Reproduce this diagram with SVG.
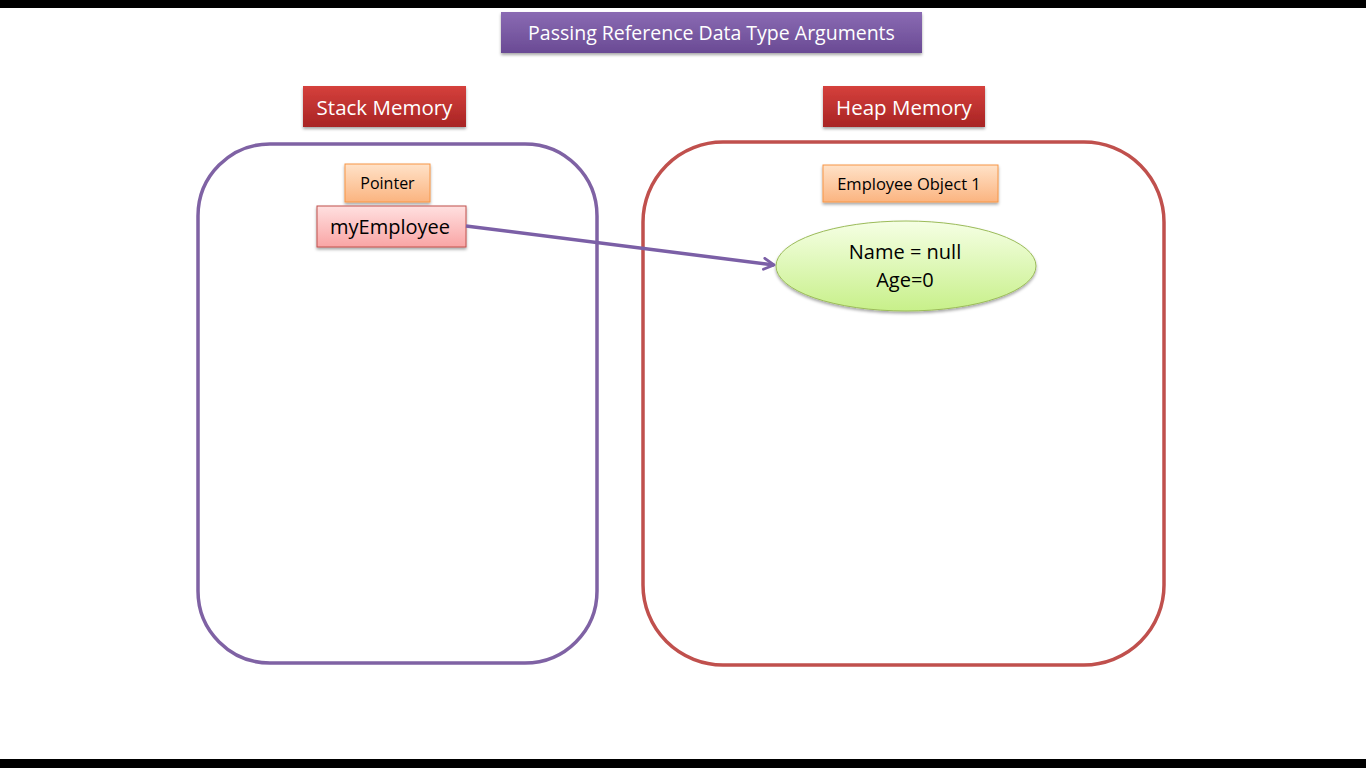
<svg xmlns="http://www.w3.org/2000/svg" width="1366" height="768" viewBox="0 0 1366 768">
<defs>
<linearGradient id="gPurple" x1="0" y1="0" x2="0" y2="1"><stop offset="0" stop-color="#8a6bb3"/><stop offset="1" stop-color="#6a4a94"/></linearGradient>
<linearGradient id="gRed" x1="0" y1="0" x2="0" y2="1"><stop offset="0" stop-color="#d5403c"/><stop offset="1" stop-color="#a82424"/></linearGradient>
<linearGradient id="gOrange" x1="0" y1="0" x2="0" y2="1"><stop offset="0" stop-color="#ffe2c8"/><stop offset="1" stop-color="#fbb480"/></linearGradient>
<linearGradient id="gPink" x1="0" y1="0" x2="0" y2="1"><stop offset="0" stop-color="#ffe0e0"/><stop offset="1" stop-color="#f9a5a5"/></linearGradient>
<linearGradient id="gGreen" x1="0" y1="0" x2="0" y2="1"><stop offset="0" stop-color="#f5ffe4"/><stop offset="1" stop-color="#c8f08a"/></linearGradient>
<filter id="sh" x="-10%" y="-20%" width="120%" height="150%"><feDropShadow dx="0" dy="2" stdDeviation="1.5" flood-color="#000" flood-opacity="0.35"/></filter>
<marker id="arr" viewBox="0 0 14 14" refX="12" refY="7" markerWidth="14" markerHeight="14" markerUnits="userSpaceOnUse" orient="auto"><path d="M2,1.5 L12,7 L2,12.5" fill="none" stroke="#7b5fa6" stroke-width="2.8" stroke-linecap="round" stroke-linejoin="round"/></marker>
</defs>
<style>
text{font-family:"Open Sans","Liberation Sans",Arial,sans-serif;text-anchor:middle;dominant-baseline:central}
.w{fill:#ffffff}
.k{fill:#000000}
.lbl{filter:url(#sh)}
</style>
<rect x="0" y="0" width="1366" height="768" fill="#ffffff"/>
<rect x="0" y="0" width="1366" height="8" fill="#000000"/>
<rect x="0" y="759" width="1366" height="9" fill="#000000"/>
<g id="stack-memory-box"><rect x="198" y="144" width="399" height="519" rx="72" ry="72" fill="none" stroke="#7f62a4" stroke-width="3.5"/></g>
<g id="heap-memory-box"><rect x="643" y="142" width="521" height="523" rx="80" ry="80" fill="none" stroke="#c0504d" stroke-width="3.5"/></g>
<g id="title"><rect class="lbl" x="501" y="12" width="421" height="41" fill="url(#gPurple)"/><text class="w" x="711.5" y="32.5" font-size="19.5">Passing Reference Data Type Arguments</text></g>
<g id="stack-label"><rect class="lbl" x="303" y="86" width="163" height="41" fill="url(#gRed)"/><text class="w" x="384.5" y="106.5" font-size="20.5">Stack Memory</text></g>
<g id="heap-label"><rect class="lbl" x="823" y="86" width="162" height="41" fill="url(#gRed)"/><text class="w" x="904" y="106.5" font-size="20.5">Heap Memory</text></g>
<g id="pointer-label"><rect class="lbl" x="345" y="164" width="85" height="38" fill="url(#gOrange)" stroke="#f79646" stroke-width="1"/><text class="k" x="387.5" y="183" font-size="16">Pointer</text></g>
<g id="myEmployee"><rect class="lbl" x="317" y="206" width="149" height="41" fill="url(#gPink)" stroke="#c0504d" stroke-width="1"/><text class="k" x="390" y="226" font-size="20">myEmployee</text></g>
<g id="employee-object-label"><rect class="lbl" x="823" y="165" width="175" height="37" fill="url(#gOrange)" stroke="#f79646" stroke-width="1"/><text class="k" x="909" y="183.5" font-size="16.5">Employee Object 1</text></g>
<g id="employee-object"><ellipse class="lbl" cx="906" cy="266" rx="130" ry="45" fill="url(#gGreen)" stroke="#9bbb59" stroke-width="1"/><text class="k" x="905" y="251" font-size="20">Name = null</text><text class="k" x="905" y="279" font-size="20">Age=0</text></g>
<g id="connectors"><line x1="466" y1="226" x2="774" y2="265" stroke="#7b5fa6" stroke-width="3.5" marker-end="url(#arr)"/></g>
</svg>
